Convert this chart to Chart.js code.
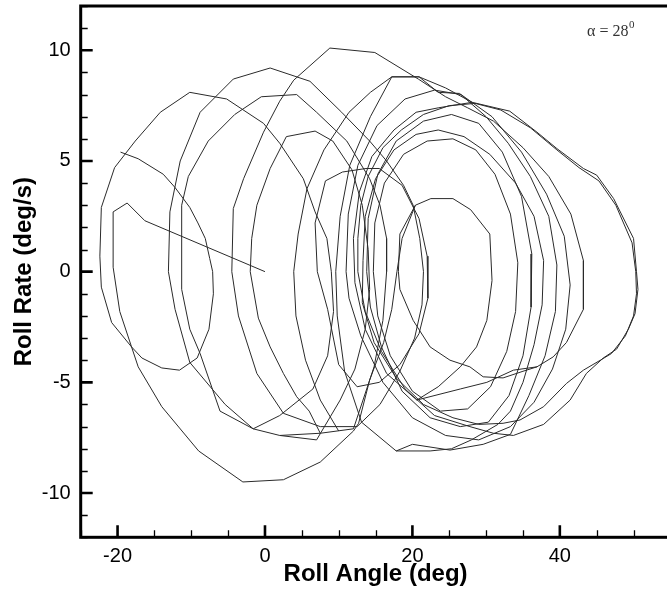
<!DOCTYPE html>
<html>
<head>
<meta charset="utf-8">
<script src="https://cdn.jsdelivr.net/npm/chart.js@4.4.1/dist/chart.umd.min.js"></script>
<style>
  html, body { margin: 0; padding: 0; overflow: hidden; background: #fff; }
  canvas { display: block; }
</style>
</head>
<body>
<canvas id="rollChart" width="672" height="594"></canvas>
<script>
// roll angle (deg), roll rate (deg/s) pairs, one array per stretch of the trace
const passStart = [
  [-19.6, 5.4], [-17.2, 5.1], [-13.8, 4.4], [-12.2, 3.8], [-10.2, 2.9], [-9.1, 2.2], [-8.1, 1.5],
  [-7.5, 0.6], [-7.1, 0], [-7.0, -1.0], [-7.6, -2.6], [-9.2, -3.9], [-11.6, -4.45], [-14.0, -4.35],
  [-16.7, -3.9], [-18.1, -3.4], [-20.8, -2.3], [-22.2, -0.7], [-22.4, 0.7], [-22.2, 2.9], [-20.4, 4.7],
  [-17.6, 5.9], [-14.2, 7.2], [-10.2, 8.1], [-5.2, 7.8], [-0.2, 6.7], [2.0, 5.8], [5.2, 4.2],
  [6.8, 2.7], [8.4, 1.5], [9.0, 0], [9.3, -1.8], [8.5, -3.8], [6.5, -5.3], [2.0, -6.5], [-1.6, -7.1],
  [-6.1, -6.3], [-8.8, -3.7], [-10.2, -2.6], [-11.3, -0.8], [-11.3, 3.0], [-10.4, 4.3], [-7.7, 5.9],
  [-4.1, 7.1], [-0.5, 7.9], [4.3, 8.0], [7.0, 7.2], [11.1, 5.9], [14.2, 4.2], [15.6, 3.0], [16.5, 1.5],
  [16.5, 0], [16.0, -2.2], [14.8, -4.3], [12.0, -7.1], [7.5, -7.3], [2.0, -7.4], [-1.6, -7.1],
  [-5.4, -6.0], [-10.2, -4.1], [-12.2, -1.7], [-13.1, 0], [-12.9, 2.7], [-11.5, 5.0], [-8.8, 7.2],
  [-4.3, 8.7], [0.7, 9.2], [6.1, 8.6], [10.4, 7.2], [14.2, 5.9], [16.5, 5.0], [18.8, 3.9], [20.1, 3.0],
  [21.0, 1.5], [21.5, 0], [21.3, -1.5], [20.3, -3.0], [18.3, -4.5], [15.6, -6.0], [12.5, -7.0],
  [7.5, -7.0], [2.5, -6.4], [-1.1, -4.6], [-3.6, -2.0], [-4.5, 0], [-4.3, 2.85], [-2.9, 4.2],
  [-0.2, 6.3], [2.0, 7.7], [3.9, 8.65], [8.8, 10.1], [14.9, 9.9], [20.8, 8.7], [24.5, 7.9], [27.5, 7.4]
];

const passMiddle = [
  [27.5, 7.4], [31.0, 6.8], [35.0, 5.6], [38.5, 4.3], [41.5, 2.6], [43.2, 0.5], [43.2, -1.7],
  [40.9, -3.2], [39.1, -3.85], [36.9, -4.3], [33.7, -4.45], [30.1, -5.0], [26.5, -5.3], [20.6, -5.8],
  [16.5, -4.6], [13.6, -2.6], [12.2, -0.5], [12.0, 1.5], [12.8, 3.6], [14.5, 5.2], [17.5, 6.4],
  [20.5, 7.2], [23.5, 7.4], [28.1, 7.65], [33.2, 7.25], [36.9, 6.3], [39.6, 5.56], [43.2, 4.66],
  [45.0, 4.36], [47.3, 3.3], [50.0, 1.5], [50.4, 0], [50.6, -0.8], [50.2, -1.9], [49.3, -2.6],
  [47.7, -3.5], [45.9, -3.9], [43.6, -4.6], [41.4, -5.8], [37.8, -6.9], [33.7, -7.4], [31.0, -7.3],
  [27.8, -7.0], [23.0, -6.5], [19.0, -5.3], [15.8, -3.6], [13.6, -1.8], [12.6, 0], [12.6, 1.5],
  [13.0, 3.0], [14.0, 4.3], [16.0, 5.6], [18.5, 6.4], [21.5, 7.1], [25.0, 7.5], [28.5, 7.6],
  [32.0, 7.3], [36.0, 6.5], [39.6, 5.5], [42.6, 4.7], [45.3, 4.1], [47.6, 3.0], [49.8, 1.3],
  [50.3, 0], [50.4, -1.0], [50.0, -2.0], [48.9, -2.9], [47.0, -3.7], [45.5, -4.0], [43.2, -4.45],
  [40.9, -5.05], [37.8, -6.1], [34.6, -6.7], [32.3, -6.85], [29.0, -6.9], [25.5, -6.6], [21.5, -6.0],
  [17.8, -4.8], [14.8, -3.2], [13.2, -1.4], [13.3, 0.5], [13.6, 2.5], [15.0, 4.2], [17.5, 5.5],
  [20.5, 6.2], [23.5, 6.4], [27.0, 6.1], [30.5, 5.3], [34.0, 4.0], [36.5, 2.5], [37.8, 0.5],
  [37.6, -1.5], [36.5, -3.3], [35.0, -5.0], [33.3, -6.3], [31.6, -6.9], [28.0, -7.6], [25.3, -8.0],
  [22.4, -8.1], [17.8, -8.1], [13.1, -6.8], [10.8, -4.5], [9.8, -2.0], [9.6, 0], [10.2, 2.5],
  [11.5, 4.8], [14.3, 7.0], [17.2, 8.8], [20.9, 8.8], [23.5, 8.1], [26.4, 8.05], [30.0, 7.0],
  [33.0, 5.8], [36.0, 4.3], [38.5, 2.5], [39.6, 0.3], [39.4, -1.8], [38.0, -3.8], [35.8, -5.6],
  [33.3, -7.35], [29.6, -7.8], [25.1, -8.06], [20.0, -7.8], [17.8, -8.1]
];

const passRingA = [
  [14.7, 0], [14.9, 2.2], [16.2, 4.0], [18.8, 5.3], [22.0, 5.9], [25.5, 6.0], [28.6, 5.5], [31.2, 4.4],
  [33.3, 2.6], [34.3, 0.4], [34.0, -1.8], [32.8, -3.6], [30.6, -5.2], [27.5, -6.2], [23.8, -6.3],
  [20.0, -5.4], [17.0, -3.8], [15.3, -2.0], [14.7, 0]
];

const passRingB = [
  [13.8, 0], [14.0, 2.4], [15.3, 4.4], [17.8, 5.9], [21.5, 6.8], [25.3, 7.1], [29.0, 6.7], [32.2, 5.4],
  [34.8, 3.4], [36.2, 0.8], [36.1, -1.6], [35.0, -3.8], [33.1, -5.6], [30.3, -6.8], [26.5, -7.0],
  [22.4, -6.6], [18.6, -5.4], [15.8, -3.4], [14.3, -1.6], [13.8, 0]
];

const passRingC = [
  [11.0, 0], [11.3, 2.6], [12.6, 4.8], [15.2, 6.6], [19.0, 7.8], [23.0, 8.2], [26.6, 8.0], [30.8, 7.0],
  [34.8, 5.4], [38.2, 3.5], [40.6, 1.6], [41.4, -0.6], [40.8, -2.6], [39.0, -4.4], [36.5, -5.9],
  [33.3, -7.0], [29.0, -7.6], [24.5, -7.4], [20.0, -6.6], [16.0, -5.0], [13.0, -2.9], [11.4, -1.2],
  [11.0, 0]
];

const passSmall = [
  [8.5, -1.7], [7.1, 0], [6.8, 2.2], [8.2, 4.1], [10.5, 4.5], [13.7, 4.66], [15.5, 4.66], [18.6, 3.9],
  [20.9, 2.4], [22.0, 0.7], [22.1, -1.2], [20.9, -2.8], [18.3, -4.2], [15.5, -5.0], [12.5, -5.2],
  [10.0, -4.2], [8.5, -1.7]
];

const passInner = [
  [36.9, -4.3], [35.0, -4.5], [32.3, -4.8], [29.6, -4.75], [27.8, -4.3], [25.1, -4.0], [22.4, -3.4],
  [20.1, -2.2], [18.3, -0.8], [18.1, 0], [18.3, 1.7], [20.4, 3.0], [22.5, 3.3], [25.5, 3.3],
  [27.9, 2.8], [30.5, 1.7], [30.8, -0.4], [30.1, -2.2], [28.7, -3.4], [26.5, -4.3], [23.5, -5.2],
  [20.6, -5.8]
];

const passLow = [
  [7.5, -7.3], [6.0, -6.3], [4.3, -5.65], [2.5, -4.6], [0.7, -3.4], [-0.9, -2.1], [-2.0, 0],
  [-1.8, 1.5], [-1.1, 3.0], [0.7, 4.66], [2.9, 6.1], [6.8, 6.35], [9.2, 5.9], [11.8, 4.6],
  [13.2, 3.0], [14.0, 1.0], [14.2, -0.8], [13.6, -2.6], [12.2, -4.4], [10.2, -5.8], [7.0, -7.6],
  [2.0, -7.4]
];

const passWide = [
  [10.0, -7.2], [7.5, -5.8], [5.5, -4.0], [4.2, -2.0], [3.9, 0], [4.5, 1.7], [5.7, 3.75], [8.0, 5.5],
  [11.4, 7.2], [14.3, 8.1], [17.2, 8.8], [20.9, 8.8], [24.5, 8.3], [28.1, 7.65]
];

const passEnd = [
  [20.4, 3.0], [18.6, 1.5], [17.9, 0], [17.2, -1.7], [16.1, -3.2], [14.2, -4.9], [12.7, -6.85],
  [12.0, -7.2], [7.5, -8.6], [2.5, -9.4], [-3.0, -9.5], [-9.0, -8.1], [-14.0, -6.1], [-17.2, -4.3],
  [-18.1, -3.4], [-19.7, -1.8], [-20.6, 0.2], [-20.6, 2.7], [-18.7, 3.1], [-16.3, 2.3], [0, 0]
];

const passes = [passStart, passMiddle, passRingA, passRingB, passRingC, passSmall, passInner,
  passLow, passWide, passEnd];

// axis ranges and tick marks
const xRange = [-25, 55];
const yRange = [-12, 12];
const xMajor = [-20, 0, 20, 40];
const yMajor = [-10, -5, 0, 5, 10];
const xMinorStep = 5;
const yMinorStep = 1;

const traceColor = "#2a2a2a";
const sansFont = "'Liberation Sans', Arial, sans-serif";

// frame, inward tick marks and the angle-of-attack note
const framePlugin = {
  id: "frame",
  afterDraw(chart) {
    const { ctx, chartArea: area, scales } = chart;
    const xs = scales.x, ys = scales.y;
    ctx.save();
    ctx.strokeStyle = "#000";

    // minor ticks
    ctx.lineWidth = 1.3;
    ctx.beginPath();
    for (let v = xRange[0]; v <= xRange[1]; v += xMinorStep) {
      if (xMajor.includes(v)) continue;
      const px = Math.round(xs.getPixelForValue(v)) + 0.5;
      ctx.moveTo(px, area.bottom);
      ctx.lineTo(px, area.bottom - 7);
    }
    for (let v = yRange[0]; v <= yRange[1]; v += yMinorStep) {
      if (yMajor.includes(v)) continue;
      const py = Math.round(ys.getPixelForValue(v)) + 0.5;
      ctx.moveTo(area.left, py);
      ctx.lineTo(area.left + 7, py);
    }
    ctx.stroke();

    // major ticks
    ctx.lineWidth = 2.6;
    ctx.beginPath();
    xMajor.forEach(v => {
      const px = xs.getPixelForValue(v);
      ctx.moveTo(px, area.bottom);
      ctx.lineTo(px, area.bottom - 12);
    });
    yMajor.forEach(v => {
      const py = ys.getPixelForValue(v);
      ctx.moveTo(area.left, py);
      ctx.lineTo(area.left + 12, py);
    });
    ctx.stroke();

    // box
    ctx.lineWidth = 3;
    ctx.strokeRect(area.left, area.top, area.right - area.left, area.bottom - area.top);

    // alpha label
    ctx.fillStyle = "#333";
    ctx.textBaseline = "alphabetic";
    ctx.font = "16px 'Liberation Serif', 'DejaVu Serif', serif";
    const label = "\u03b1 = 28";
    ctx.fillText(label, 587, 36);
    const w = ctx.measureText(label).width;
    ctx.font = "11px 'Liberation Serif', 'DejaVu Serif', serif";
    ctx.fillText("0", 587 + w + 0.5, 28);
    ctx.restore();
  }
};

new Chart(document.getElementById("rollChart"), {
  type: "scatter",
  data: {
    datasets: passes.map((pass, i) => ({
      label: "pass " + (i + 1),
      data: pass.map(([x, y]) => ({ x, y })),
      showLine: true,
      borderColor: traceColor,
      borderWidth: 1,
      pointRadius: 0,
      tension: 0,
      fill: false
    }))
  },
  options: {
    responsive: false,
    animation: false,
    devicePixelRatio: 1,
    layout: { padding: { left: 0, right: 1.6, top: 6, bottom: 0 } },
    plugins: { legend: { display: false }, tooltip: { enabled: false } },
    scales: {
      x: {
        type: "linear",
        min: xRange[0],
        max: xRange[1],
        afterBuildTicks: s => { s.ticks = xMajor.map(v => ({ value: v })); },
        afterFit: s => { s.height = 56.7; s.paddingLeft = 0; s.paddingRight = 0; },
        grid: { display: false, drawTicks: false },
        border: { display: false },
        ticks: { color: "#000", padding: 7, font: { family: sansFont, size: 20 } },
        title: {
          display: true,
          text: "Roll Angle (deg)",
          color: "#000",
          padding: { top: 0, bottom: 5 },
          font: { family: sansFont, size: 24, weight: "bold" }
        }
      },
      y: {
        type: "linear",
        min: yRange[0],
        max: yRange[1],
        afterBuildTicks: s => { s.ticks = yMajor.map(v => ({ value: v })); },
        afterFit: s => { s.width = 80.7; s.paddingTop = 0; s.paddingBottom = 0; },
        grid: { display: false, drawTicks: false },
        border: { display: false },
        ticks: { color: "#000", padding: 10, font: { family: sansFont, size: 20 } },
        title: {
          display: true,
          text: "Roll Rate (deg/s)",
          color: "#000",
          padding: { top: 10, bottom: 0 },
          font: { family: sansFont, size: 24, weight: "bold" }
        }
      }
    }
  },
  plugins: [framePlugin]
});
</script>
</body>
</html>
